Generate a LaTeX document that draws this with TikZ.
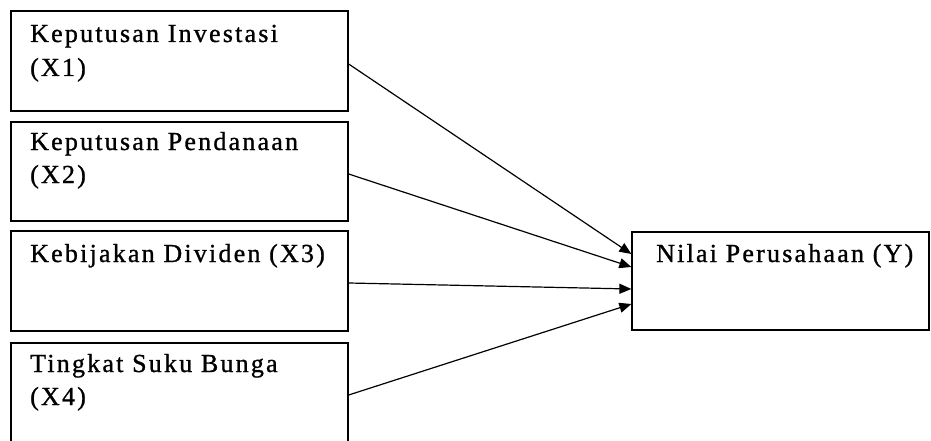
\documentclass[tikz,border=0pt]{standalone}
\usepackage{fontspec}
\setmainfont{Liberation Serif}[LetterSpace=8.5, FakeBold=1]
\usetikzlibrary{arrows.meta}
\tikzset{
  box/.style={draw=black, line width=1.3pt, rectangle, inner sep=0pt, fill=white},
  lbl/.style={anchor=base west, inner sep=0pt, font=\fontsize{26}{33}\selectfont},
  arr/.style={draw=black, line width=1.2pt, -{Triangle[length=12pt,width=10pt]}}
}
\begin{document}
\begin{tikzpicture}[x=1pt,y=1pt]
\useasboundingbox (0,0) rectangle (931,-441);
\clip (0,0) rectangle (931,-441);
\fill[white] (0,0) rectangle (931,-441);
% boxes
\node[box, minimum width=337pt, minimum height=100pt] (b1) at (179.5,-61) {};
\node[box, minimum width=337pt, minimum height=99pt] (b2) at (179.5,-171.5) {};
\node[box, minimum width=337pt, minimum height=100pt] (b3) at (179.5,-281) {};
\node[box, minimum width=337pt, minimum height=100pt] (b4) at (179.5,-393) {};
\node[box, minimum width=297pt, minimum height=98pt] (y) at (780.5,-281) {};
% texts
\node[lbl] (t1a) at (30,-42) {Keputusan Investasi};
\node[lbl] (t1b) at (30,-76) {(X1)};
\node[lbl] (t2a) at (30,-150) {Keputusan Pendanaan};
\node[lbl] (t2b) at (30,-183) {(X2)};
\node[lbl] (t3a) at (30,-262) {Kebijakan Dividen (X3)};
\node[lbl] (t4a) at (30,-372) {Tingkat Suku Bunga};
\node[lbl] (t4b) at (30,-405) {(X4)};
\node[lbl] (ty) at (656,-262) {Nilai Perusahaan (Y)};
% arrows
\draw[arr] ([yshift=-3pt]b1.east) -- ([yshift=27pt]y.west);
\draw[arr] ([yshift=-2.5pt]b2.east) -- ([yshift=14pt]y.west);
\draw[arr] ([yshift=-2pt]b3.east) -- ([yshift=-8pt]y.west);
\draw[arr] ([yshift=-2pt]b4.east) -- ([yshift=-23pt]y.west);
\end{tikzpicture}
\end{document}
